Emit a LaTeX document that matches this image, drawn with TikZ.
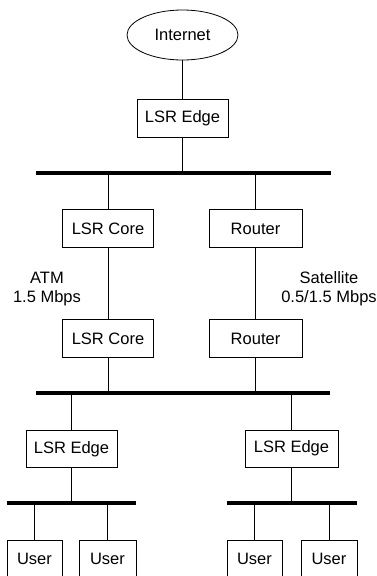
\documentclass[tikz,border=0pt]{standalone}
\usepackage{fontspec}
\setmainfont{Liberation Sans}
\usetikzlibrary{shapes.geometric}
\begin{document}
\begin{tikzpicture}[x=1pt,y=-1pt,
  every node/.style={font=\fontsize{16.5}{19}\selectfont},
  devbox/.style={draw,line width=0.8pt,minimum height=38pt,inner sep=0pt},
  wide/.style={devbox,minimum width=91pt},
  userbox/.style={devbox,minimum width=56pt},
  link/.style={line width=0.8pt},
  bus/.style={line width=4pt},
  smallbus/.style={line width=3.5pt},
  lbl/.style={align=center,inner sep=0pt}]
\useasboundingbox (0,0) rectangle (376,576);
\clip (0,0) rectangle (376,576);
% top
\node[draw,ellipse,line width=0.8pt,minimum width=111pt,minimum height=50pt,inner sep=0pt] (inet) at (182.5,35) {Internet};
\node[wide] (edge0) at (182.5,118) {LSR Edge};
\coordinate (b1l) at (36,173);
\coordinate (b1r) at (331,173);
\draw[link] (inet) -- (edge0);
\draw[link] (edge0.south) -- (edge0.south |- b1l);
\draw[bus] (b1l) -- (b1r);
% middle
\node[wide] (core1) at (108,228.5) {LSR Core};
\node[wide,minimum width=93pt] (rt1) at (255.5,228.5) {Router};
\node[wide] (core2) at (108,338.5) {LSR Core};
\node[wide,minimum width=93pt] (rt2) at (255.5,338.5) {Router};
\draw[link] (core1.north) -- (core1.north |- b1l);
\draw[link] (rt1.north) -- (rt1.north |- b1l);
\draw[link] (core1) -- (core2);
\draw[link] (rt1) -- (rt2);
\node[lbl] (atm) at (47,289) {ATM\\1.5 Mbps};
\node[lbl] (sat) at (329,289) {Satellite\\0.5/1.5 Mbps};
\coordinate (b2l) at (36,393);
\coordinate (b2r) at (330,393);
\draw[link] (core2.south) -- (core2.south |- b2l);
\draw[link] (rt2.south) -- (rt2.south |- b2l);
\draw[bus] (b2l) -- (b2r);
% lower edges
\node[wide,minimum height=37pt] (edgeL) at (71.5,449) {LSR Edge};
\node[wide,minimum height=37pt,minimum width=93pt] (edgeR) at (291.5,448.5) {LSR Edge};
\draw[link] (edgeL.north) -- (edgeL.north |- b2l);
\draw[link] (edgeR.north) -- (edgeR.north |- b2l);
\coordinate (b3l1) at (7,503);
\coordinate (b3l2) at (136,503);
\coordinate (b3r1) at (227,503);
\coordinate (b3r2) at (357,503);
\draw[link] (edgeL.south) -- (edgeL.south |- b3l1);
\draw[link] (edgeR.south) -- (edgeR.south |- b3r1);
\draw[smallbus] (b3l1) -- (b3l2);
\draw[smallbus] (b3r1) -- (b3r2);
% users
\node[userbox,minimum width=55pt] (u1) at (34.5,559) {User};
\node[userbox,minimum width=57pt] (u2) at (107.5,559) {User};
\node[userbox,minimum width=55pt] (u3) at (254.5,559) {User};
\node[userbox] (u4) at (329,559) {User};
\draw[link] (u1.north) -- (u1.north |- b3l1);
\draw[link] (u2.north) -- (u2.north |- b3l1);
\draw[link] (u3.north) -- (u3.north |- b3r1);
\draw[link] (u4.north) -- (u4.north |- b3r1);
\end{tikzpicture}
\end{document}
